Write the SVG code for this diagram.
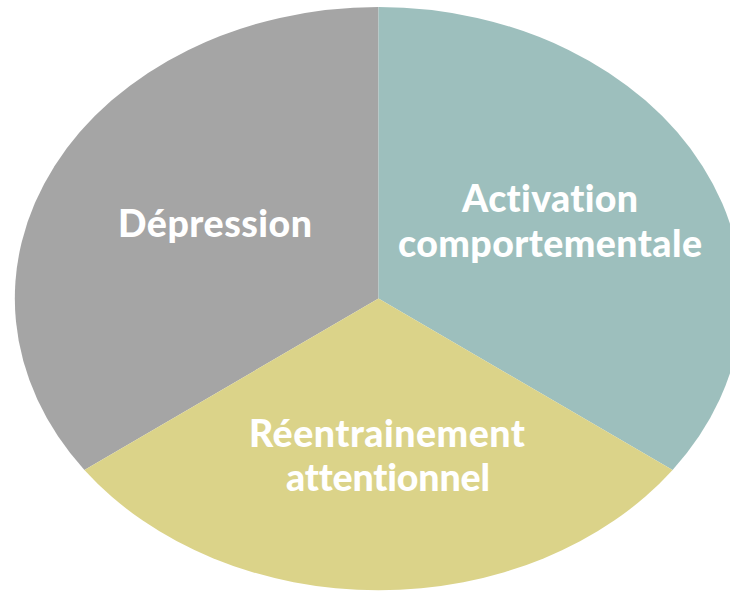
<svg xmlns="http://www.w3.org/2000/svg" width="730" height="591" viewBox="0 0 730 591">
<style>
.lbl{font-family:Lato,"Liberation Sans","DejaVu Sans",sans-serif;font-weight:900;font-size:37.5px;fill:#FFFFFF;text-anchor:middle;font-variant-ligatures:none;font-feature-settings:"liga" 0,"clig" 0,"dlig" 0}
.seg{stroke:none}
</style>
<rect x="0" y="0" width="730" height="591" fill="#FFFFFF"/>
<g id="depression">
<path class="seg" fill="#A5A5A5" d="M378.5 298.5 L378.5 7 A363.5 291.5 0 0 0 84.4 470 Z"/>
<text class="lbl" x="215" y="237" textLength="194" lengthAdjust="spacing">Dépression</text>
</g>
<g id="activation">
<path class="seg" fill="#9DBFBD" d="M378.5 298.5 L378.5 7 A363.5 291.5 0 0 1 672.6 470 Z"/>
<text class="lbl" x="550" y="212" textLength="176" lengthAdjust="spacing">Activation</text>
<text class="lbl" x="550" y="257" textLength="304" lengthAdjust="spacing">comportementale</text>
</g>
<g id="reentrainement">
<path class="seg" fill="#DBD389" d="M378.5 298.5 L84.4 470 A363.5 291.5 0 0 0 672.6 470 Z"/>
<text class="lbl" x="387" y="447" textLength="276" lengthAdjust="spacing">Réentrainement</text>
<text class="lbl" x="388" y="491" textLength="204" lengthAdjust="spacing">attentionnel</text>
</g>
<g id="connectors"></g>
</svg>
